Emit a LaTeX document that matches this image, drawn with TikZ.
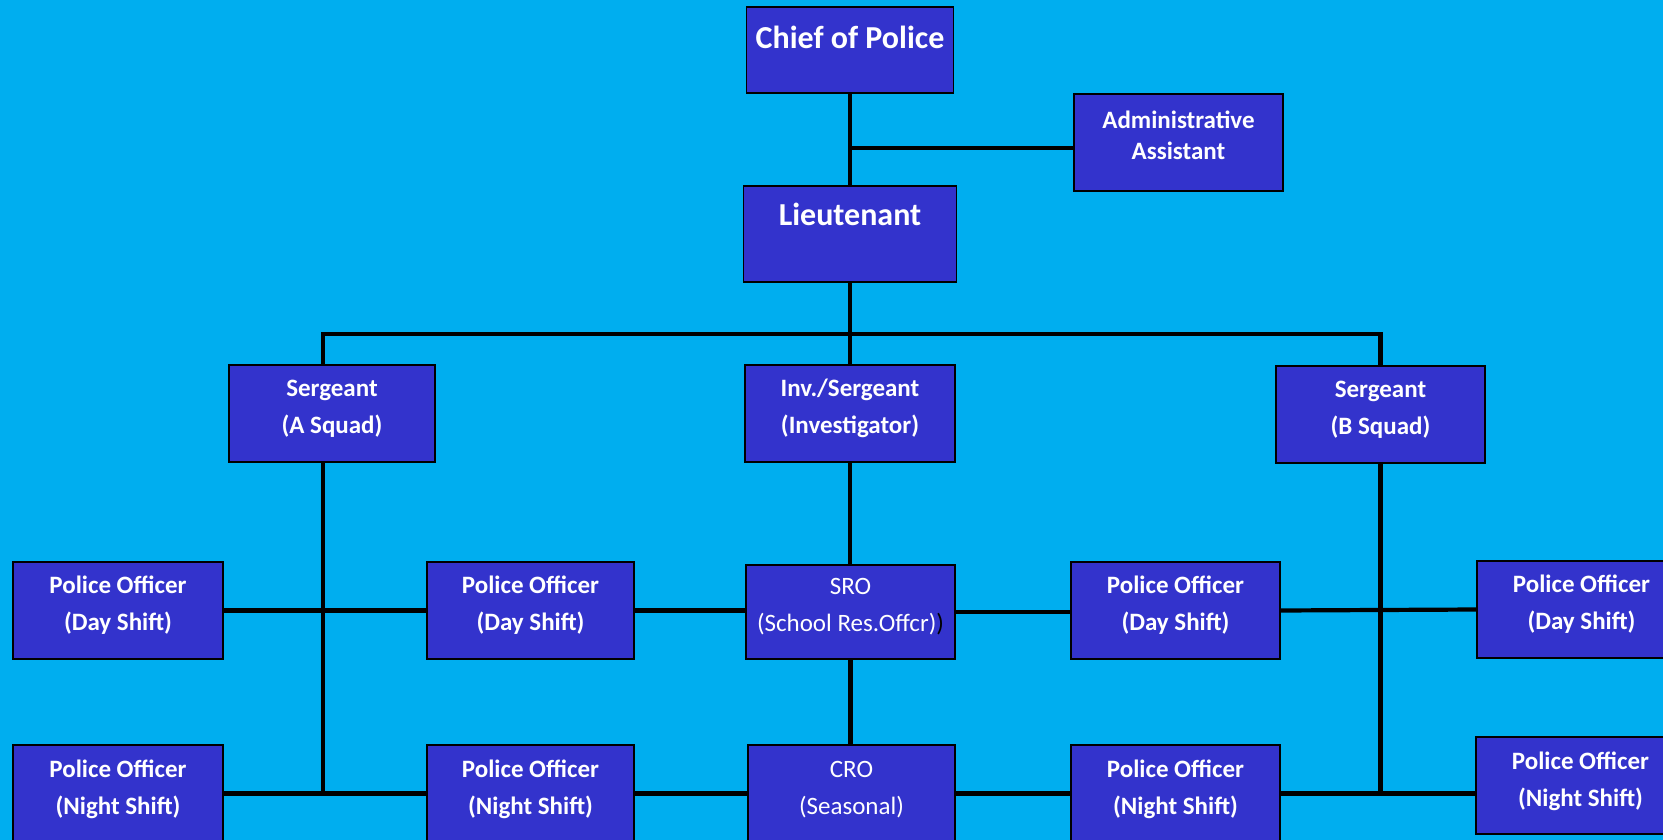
\documentclass[tikz,border=0pt]{standalone}
\usepackage{fontspec}
\setmainfont{Carlito}
\definecolor{bg}{HTML}{00AEEF}
\definecolor{boxc}{HTML}{3333CC}
\begin{document}
\begin{tikzpicture}[x=1pt,y=-1pt,
  box/.style={draw=black, line width=1.5pt, fill=boxc, inner sep=0pt, minimum width=209, minimum height=97},
  lbl/.style={text=white, align=center, inner sep=0pt, font=\bfseries\fontsize{25}{37}\selectfont},
  tight/.style={text=white, align=center, inner sep=0pt, font=\bfseries\fontsize{25}{31}\selectfont},
  big/.style={text=white, align=center, inner sep=0pt, font=\bfseries\fontsize{32}{40}\selectfont},
  reg/.style={text=white, align=center, inner sep=0pt, font=\fontsize{25}{37}\selectfont},
  wire/.style={line width=4.2pt, black},
]
\fill[bg] (0,0) rectangle (1663,840);
\useasboundingbox (0,0) rectangle (1663,840);
\begin{scope}
\clip (0,0) rectangle (1663,840);
% top
\node[box, minimum width=207, minimum height=86, label={[big, yshift=13]center:Chief of Police}] (chief) at (850,50) {};
\node[box, label={[tight, yshift=7]center:Administrative\\Assistant}] (adm) at (1178.5,142.5) {};
\node[box, minimum width=213, minimum height=96, label={[big, yshift=20]center:Lieutenant}] (lt) at (850,234) {};
% sergeants
\node[box, minimum width=206, label={[lbl, yshift=5]center:Sergeant\\(A Squad)}] (sga) at (332,413.5) {};
\node[box, minimum width=210, label={[lbl, yshift=5]center:Inv./Sergeant\\(Investigator)}] (inv) at (850,413.5) {};
\node[box, label={[lbl, yshift=5]center:Sergeant\\(B Squad)}] (sgb) at (1380.5,414.5) {};
% day row
\node[box, minimum width=210, label={[lbl, yshift=5.5]center:Police Officer\\(Day Shift)}] (pd1) at (118,610.5) {};
\node[box, minimum width=207, label={[lbl, yshift=5.5]center:Police Officer\\(Day Shift)}] (pd2) at (530.5,610.5) {};
\node[box, minimum height=94, label={[reg, yshift=5]center:SRO\\(School Res.Offcr)\textcolor{black}{)}}] (sro) at (850.5,612) {};
\node[box, label={[lbl, yshift=5.5]center:Police Officer\\(Day Shift)}] (pd4) at (1175.5,610.5) {};
\node[box, label={[lbl, yshift=5.5]center:Police Officer\\(Day Shift)}] (pd5) at (1581.5,609.5) {};
% night row
\node[box, minimum width=210, label={[lbl, yshift=4]center:Police Officer\\(Night Shift)}] (pn1) at (118,793.5) {};
\node[box, minimum width=207, label={[lbl, yshift=4]center:Police Officer\\(Night Shift)}] (pn2) at (530.5,793.5) {};
\node[box, minimum width=207, label={[reg, yshift=4]center:CRO\\(Seasonal)}] (cro) at (851.5,793.5) {};
\node[box, label={[lbl, yshift=4]center:Police Officer\\(Night Shift)}] (pn4) at (1175.5,793.5) {};
\node[box, label={[lbl, yshift=4]center:Police Officer\\(Night Shift)}] (pn5) at (1580.5,785.5) {};
% connectors
\draw[wire] (chief.south) -- (lt.north);
\draw[wire] ([yshift=-5.5]adm.west) -- ([yshift=-5.5]adm.west -| chief.south);
\draw[wire] (lt.south) -- (lt.south |- inv.north);
\draw[wire] ([xshift=-9]sga.north) -- ++(0,-30) -| (sgb.north);
\draw[wire] (inv.south) -- (inv.south |- sro.north);
\draw[wire] (sro.south) -- (sro.south |- cro.north);
\draw[wire] ([xshift=-9]sga.south) -- ([xshift=-9]sga.south |- pn1.east);
\draw[wire] (sgb.south) -- (sgb.south |- pn4.east);
\draw[wire] (pd1.east) -- (pd2.west);
\draw[wire] (pd2.east) -- (pd2.east -| sro.west);
\draw[wire] (sro.east) -- (sro.east -| pd4.west);
\draw[wire] (pd4.east) -- (pd5.west);
\draw[wire] (pn1.east) -- (pn2.west);
\draw[wire] (pn2.east) -- (cro.west);
\draw[wire] (cro.east) -- (pn4.west);
\draw[wire] (pn4.east) -- (pn4.east -| pn5.west);
\end{scope}
\end{tikzpicture}
\end{document}
